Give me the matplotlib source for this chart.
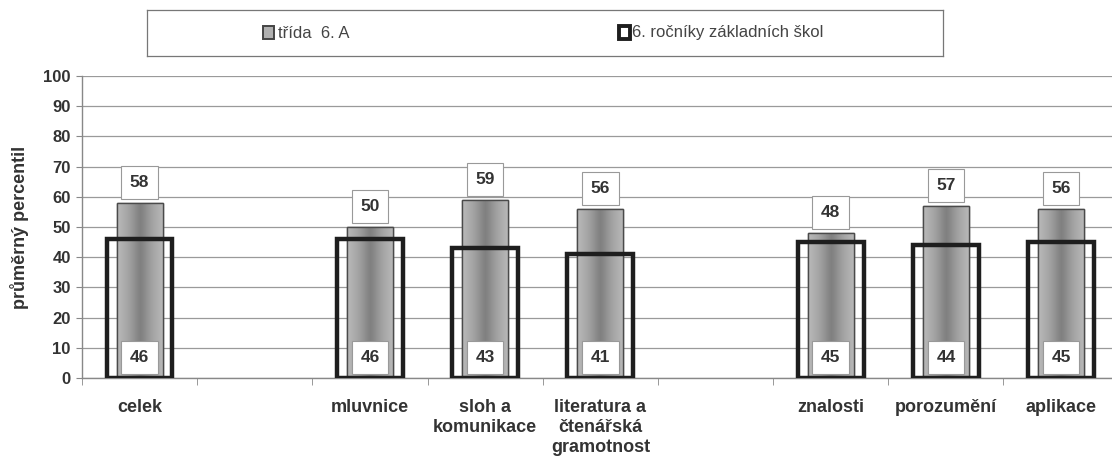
import numpy as np
import matplotlib.pyplot as plt
from matplotlib.colors import LinearSegmentedColormap

# categories in three groups (an empty slot is left between groups)
groups = [
    ['celek'],
    ['mluvnice', 'sloh a\nkomunikace', 'literatura a\nčtenářská\ngramotnost'],
    ['znalosti', 'porozumění', 'aplikace'],
]
trida = [58, 50, 59, 56, 48, 57, 56]
skoly = [46, 46, 43, 41, 45, 44, 45]
yticks = list(range(0, 101, 10))

plt.rcParams['font.family'] = ['Liberation Sans', 'DejaVu Sans']
txt = '#333333'

# slot positions with one empty slot between groups
labels, xs = [], []
slot = 0
for g in groups:
    for name in g:
        labels.append(name)
        xs.append(slot)
        slot += 1
    slot += 1
n_slots = slot - 1

fig = plt.figure(figsize=(11.12, 4.61), dpi=100)
ax = fig.add_axes([0.0737, 0.18, 0.9323, 0.655])
ax.set_xlim(-0.5, n_slots - 0.5)
ax.set_ylim(0, 100)

# horizontal gradient for the class bars (darker in the middle)
grad = np.abs(np.linspace(-1, 1, 64))
grad = np.vstack([grad, grad])
gcmap = LinearSegmentedColormap.from_list('bar', ['#7f7f7f', '#a2a2a2', '#bababa'])

box = dict(boxstyle='square,pad=0.5', fc='white', ec='#999999', lw=0.8)
w1, w2 = 0.40, 0.57
for x, v1, v2 in zip(xs, trida, skoly):
    bar = ax.bar(x, v1, width=w1, color='#a0a0a0', edgecolor='#555555',
                 linewidth=1.0, zorder=2)[0]
    im = ax.imshow(grad, cmap=gcmap, vmin=0, vmax=1, aspect='auto',
                   extent=[x - w1 / 2, x + w1 / 2, 0, v1], zorder=2.5,
                   interpolation='bicubic')
    im.set_clip_path(bar)
    ax.bar(x, v1, width=w1, facecolor='none', edgecolor='#4a4a4a',
           linewidth=1.0, zorder=2.6)
    ax.bar(x, v2, width=w2, facecolor='none', edgecolor='#1e1e1e',
           linewidth=3.2, zorder=3)
    ax.text(x, v1 + 4.3, str(v1), ha='center', va='bottom', fontsize=12.5,
            fontweight='bold', color=txt, zorder=5, bbox=box)
    ax.text(x, 6.8, str(v2), ha='center', va='center', fontsize=12.5,
            fontweight='bold', color=txt, zorder=5, bbox=box)

ax.set_aspect('auto')
ax.set_yticks(yticks)
ax.set_yticklabels([str(t) for t in yticks], fontsize=12, fontweight='bold', color=txt)
ax.yaxis.grid(True, color='#9a9a9a', linewidth=0.9)
ax.set_axisbelow(True)

ax.set_xticks(xs)
ax.set_xticklabels(labels, fontsize=13, fontweight='bold', color=txt, linespacing=1.25)
ax.tick_params(axis='x', length=0, pad=15)
ax.set_xticks(np.arange(-0.5, n_slots, 1.0), minor=True)
ax.tick_params(axis='x', which='minor', length=5, color='#888888', direction='out')
ax.tick_params(axis='y', length=4, color='#888888', pad=4)

for s in ['top', 'right']:
    ax.spines[s].set_visible(False)
for s in ['left', 'bottom']:
    ax.spines[s].set_color('#888888')
    ax.spines[s].set_linewidth(1.0)

ax.set_ylabel('průměrný percentil', fontsize=13, fontweight='bold', color=txt, labelpad=10)

# legend box
lax = fig.add_axes([147 / 1112, 1 - 56 / 461, (943 - 147) / 1112, 46 / 461])
lax.set_xlim(0, 1)
lax.set_ylim(0, 1)
lax.set_xticks([])
lax.set_yticks([])
for s in lax.spines.values():
    s.set_color('#777777')
    s.set_linewidth(0.9)
lax.add_patch(plt.Rectangle((0.146, 0.36), 0.014, 0.29, fc='#b0b0b0', ec='#444444', lw=1.4))
lax.text(0.165, 0.5, 'třída  6. A', ha='left', va='center', fontsize=12, color='#444444')
lax.add_patch(plt.Rectangle((0.593, 0.36), 0.014, 0.29, fc='white', ec='#1e1e1e', lw=2.8))
lax.text(0.609, 0.5, '6. ročníky základních škol', ha='left', va='center', fontsize=12,
         color='#444444')

fig.savefig('out.png', dpi=100)
